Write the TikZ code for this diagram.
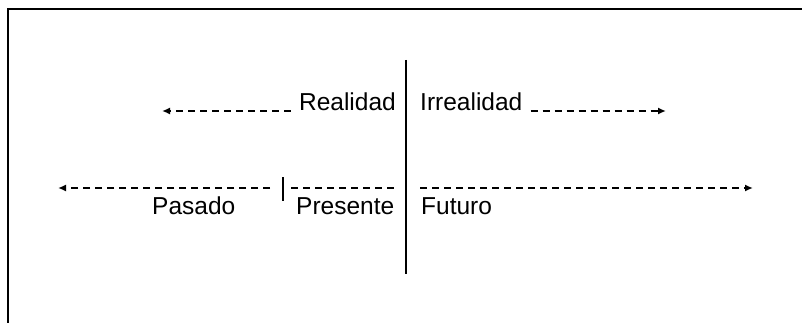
\documentclass[tikz,border=0pt]{standalone}
\usepackage{fontspec}
\setmainfont{Liberation Sans}
\usetikzlibrary{arrows.meta}
\tikzset{
  lbl/.style={inner sep=0pt,font=\fontsize{24.5}{28}\selectfont},
  dasharrow/.style={line width=2pt,dash pattern=on 7pt off 5pt,-{Latex[length=8pt,width=7pt]}},
  dashline/.style={line width=2pt,dash pattern=on 7pt off 5pt}
}
\begin{document}
\begin{tikzpicture}[x=1pt,y=-1pt]
\useasboundingbox (0,0) rectangle (802,323);
\draw[line width=2.5pt] (8,323) -- (8,9) -- (802,9);
\coordinate (axtop) at (406,60);
\coordinate (axbot) at (406,274);
\draw[line width=2.5pt] (axtop) -- (axbot);
\node[lbl,anchor=base east] (realidad) at (396,111) {Realidad};
\node[lbl,anchor=base west] (irrealidad) at (420,111) {Irrealidad};
\coordinate (realend) at (162,111);
\coordinate (irrend) at (666,111);
\draw[dasharrow] ([xshift=-8pt]realidad.base west) -- (realend);
\draw[dasharrow] ([xshift=8pt]irrealidad.base east) -- (irrend);
\coordinate (ticktop) at (283,177);
\coordinate (tickbot) at (283,201);
\draw[line width=2.2pt] (ticktop) -- (tickbot);
\coordinate (pastend) at (58,188);
\coordinate (futend) at (753,188);
\draw[dasharrow] ([xshift=-13pt]ticktop |- pastend) -- (pastend);
\draw[dashline] ([xshift=8pt]ticktop |- pastend) -- ([xshift=-12pt]axtop |- pastend);
\draw[dasharrow] ([xshift=14pt]axtop |- futend) -- (futend);
\node[lbl,anchor=base west] (pasado) at (152,214) {Pasado};
\node[lbl,anchor=base west] (presente) at (296,214) {Presente};
\node[lbl,anchor=base west] (futuro) at (421,214) {Futuro};
\end{tikzpicture}
\end{document}
